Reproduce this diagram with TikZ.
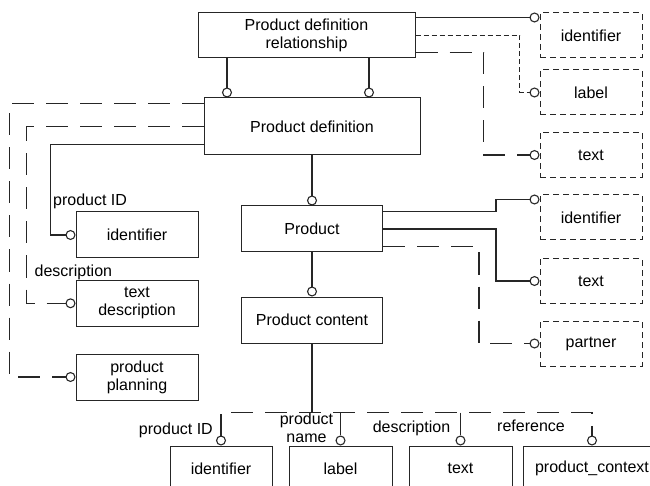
\documentclass[tikz,border=0pt]{standalone}
\usepackage{fontspec}
\setmainfont{Liberation Sans}
\usetikzlibrary{arrows.meta,positioning}
\tikzset{%
  >={Circle[open,length=10pt,width=10pt]},
  % Specifications for style of nodes:
        base/.style = {rectangle, draw=black!85, line width=1pt, inner sep=0pt,
                       text centered, align=center, font=\fontsize{16}{18}\selectfont},
      entity/.style = {base, minimum width=141pt, minimum height=46pt},
     attrbox/.style = {base, dash pattern=on 6pt off 4pt, minimum width=102pt,
                       minimum height=45pt},
     roletag/.style = {inner sep=0pt, align=center, font=\fontsize{16}{18}\selectfont},
  % Specifications for style of connectors:
        link/.style = {->, line width=1.1pt, draw=black!85},
    longlink/.style = {link, dash pattern=on 22pt off 12pt},
   shortlink/.style = {link, dash pattern=on 5pt off 3pt},
}

\begin{document}
\begin{tikzpicture}[x=1pt, y=-1pt]
\clip (0,0) rectangle (650,486);

\node (PDR)     [entity, minimum width=217pt, minimum height=45pt] at (306.5,35.5) {Product definition\\relationship};
\node (PD)      [entity, minimum width=216pt, minimum height=57pt] at (312,126.5) {Product definition};
\node (Prod)    [entity]                    at (312,229)   {Product};
\node (Pcont)   [entity]                    at (312,320)   {Product content};

% attribute boxes on the right
\node (idA)     [attrbox]                   at (591,35.5)  {identifier};
\node (lbl)     [attrbox]                   at (591,92.5)  {label};
\node (txtA)    [attrbox]                   at (591,155)   {text};
\node (idB)     [attrbox]                   at (591,217.5) {identifier};
\node (txtB)    [attrbox]                   at (591,281)   {text};
\node (partner) [attrbox]                   at (591,343.5) {partner};

% boxes on the left
\node (idL)     [entity, minimum width=122pt] at (137,235)   {identifier};
\node (tdesc)   [entity, minimum width=122pt] at (137,303.3) {text\\description};
\node (pplan)   [entity, minimum width=122pt] at (137,377)   {product\\planning};

% boxes at the bottom
\node (idBot)   [entity, minimum width=102pt, minimum height=45pt] at (221,468.5)   {identifier};
\node (lblBot)  [entity, minimum width=103pt, minimum height=45pt] at (340.5,468.5) {label};
\node (txtBot)  [entity, minimum width=103pt, minimum height=45pt] at (460.5,468.5) {text};
\node (ctx)     [entity, minimum width=138pt, minimum height=45pt] at (592,468.5)   {product\_context};

% role names
\node (tagPid)   [roletag, anchor=west] at (53,201.5)  {product ID};
\node (tagDesc)  [roletag, anchor=west] at (34.5,272)  {description};
\node (tagBPid)  [roletag, anchor=east] at (213,430)   {product ID};
\node (tagBName) [roletag]              at (306.5,428) {product\\name};
\node (tagBDesc) [roletag]              at (411.5,428) {description};
\node (tagBRef)  [roletag]              at (531,426)   {reference};

\draw[link]      ([xshift=-79.5pt]PDR.south) -- ([xshift=-85pt]PD.north);
\draw[link]      ([xshift=62.5pt]PDR.south) -- ([xshift=57pt]PD.north);
\draw[link]      ([yshift=-5pt]PDR.north east) -- ([yshift=-5pt]idA.north west);
\draw[shortlink] (PDR.east) -- ++(104,0) |- (lbl.west);
\draw[longlink]  ([yshift=6pt]PDR.south east) -- ++(68,0) |- (txtA.west);

\draw[longlink]  ([yshift=-6pt]PD.north west) -- ++(-194,0) |- (pplan.west);
\draw[longlink]  (PD.west) -- ++(-177,0) |- (tdesc.west);
\draw[link]      ([yshift=11pt]PD.south west) -- ++(-153,0) |- (idL.west);

\draw[link]      (PD.south) -- (Prod.north);
\draw[link]      ([yshift=-6pt]Prod.north east) -- ++(113,0) |- ([yshift=-5pt]idB.north west);
\draw[link]      (Prod.east) -- ++(113,0) |- (txtB.west);
\draw[longlink]  ([yshift=6pt]Prod.south east) -- ++(96,0) |- (partner.west);
\draw[link]      (Prod.south) -- (Pcont.north);

\path (Pcont.south) ++(0,69) coordinate (fork);
\draw[line width=1.1pt, draw=black!85] (Pcont.south) -- (fork);
\draw[longlink, <->] (idBot.north) -- (idBot.north |- fork) -- (ctx.north |- fork) -- (ctx.north);
\draw[longlink]  (lblBot.north |- fork) -- (lblBot.north);
\draw[longlink]  (txtBot.north |- fork) -- (txtBot.north);
\end{tikzpicture}
\end{document}
